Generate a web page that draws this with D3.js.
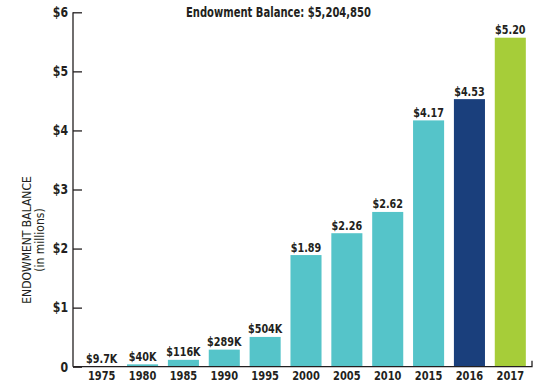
<!DOCTYPE html>
<html>
<head>
<meta charset="utf-8">
<script src="https://cdn.jsdelivr.net/npm/d3@7"></script>
<style>
  body { margin: 0; background: #fff; }
  svg text { font-family: "Liberation Sans Narrow", "DejaVu Sans", sans-serif; font-stretch: condensed; fill: #231f20; }
</style>
</head>
<body>
<svg id="chart" width="542" height="383"></svg>
<script>
// data
var years = ["1975", "1980", "1985", "1990", "1995", "2000", "2005", "2010", "2015", "2016", "2017"];
// bar heights in millions, as drawn
var balances = [0.0097, 0.04, 0.116, 0.289, 0.504, 1.89, 2.26, 2.62, 4.17, 4.53, 5.57];
var valueLabels = ["$9.7K", "$40K", "$116K", "$289K", "$504K", "$1.89", "$2.26", "$2.62", "$4.17", "$4.53", "$5.20"];
var barColors = ["#55c4c9", "#55c4c9", "#55c4c9", "#55c4c9", "#55c4c9", "#55c4c9", "#55c4c9", "#55c4c9", "#55c4c9", "#1a3f7c", "#a6cd39"];
var yTicks = [0, 1, 2, 3, 4, 5, 6];
var yTickLabels = ["0", "$1", "$2", "$3", "$4", "$5", "$6"];
var title = "Endowment Balance: $5,204,850";

(function() {
  var svg = d3.select("#chart");
  var left = 73, right = 532, plotTop = 12.3, bottom = 366.7;

  var x = d3.scaleBand().domain(years).range([78, 534]).paddingInner(0.24).paddingOuter(0.2);
  var y = d3.scaleLinear().domain([0, 6]).range([bottom, plotTop]);

  // narrow the glyphs a bit, the original face is a tall condensed gothic
  function squeeze(sel, fx, fy, sx) {
    return sel.attr("transform", function(d, i) {
      return "translate(" + fx(d, i) + "," + fy(d, i) + ") scale(" + sx + ",1)";
    });
  }

  // y axis: line with inward ticks
  var yAxis = d3.axisRight(y).tickValues(yTicks).tickSize(9).tickFormat("");
  var gy = svg.append("g").attr("transform", "translate(" + left + ",0)").call(yAxis);
  gy.select(".domain").remove();
  gy.selectAll("line").attr("stroke", "#231f20").attr("stroke-width", 1.3);
  svg.append("line").attr("x1", left).attr("x2", left).attr("y1", y(6)).attr("y2", y(0))
    .attr("stroke", "#231f20").attr("stroke-width", 1.3);

  squeeze(svg.selectAll("text.ytick").data(yTicks).enter().append("text")
    .attr("class", "ytick")
    .attr("text-anchor", "end").attr("font-size", 13.5).attr("font-weight", "bold")
    .text(function(d, i) { return yTickLabels[i]; }),
    function() { return 68; }, function(d) { return y(d) + 4.8; }, 0.9);

  // bars
  svg.selectAll("rect.bar").data(balances).enter().append("rect")
    .attr("class", "bar")
    .attr("x", function(d, i) { return x(years[i]); })
    .attr("width", x.bandwidth())
    .attr("y", function(d) { return y(d); })
    .attr("height", function(d) { return y(0) - y(d); })
    .attr("fill", function(d, i) { return barColors[i]; });

  // x axis line with end tick
  svg.append("path")
    .attr("d", "M" + left + "," + bottom + "H" + right + "V" + (bottom - 6))
    .attr("fill", "none").attr("stroke", "#231f20").attr("stroke-width", 1.3);

  squeeze(svg.selectAll("text.xlab").data(years).enter().append("text")
    .attr("class", "xlab")
    .attr("text-anchor", "middle").attr("font-size", 12.5).attr("font-weight", "bold")
    .text(function(d) { return d; }),
    function(d) { return x(d) + x.bandwidth() / 2; }, function() { return 380; }, 0.88);

  // value labels
  squeeze(svg.selectAll("text.val").data(balances).enter().append("text")
    .attr("class", "val")
    .attr("text-anchor", "middle").attr("font-size", 12.5).attr("font-weight", "bold")
    .text(function(d, i) { return valueLabels[i]; }),
    function(d, i) { return x(years[i]) + x.bandwidth() / 2; }, function(d) { return y(d) - 3.5; }, 0.86);

  // title
  svg.append("text").attr("x", 186).attr("y", 17)
    .attr("textLength", 185).attr("lengthAdjust", "spacingAndGlyphs")
    .attr("font-size", 14).attr("font-weight", "bold").text(title);

  // y axis title
  var yt = svg.append("g").attr("transform", "translate(0,240) rotate(-90)");
  yt.append("text").attr("x", 0).attr("y", 31).attr("text-anchor", "middle")
    .attr("font-size", 12).attr("font-weight", 500).text("ENDOWMENT BALANCE");
  yt.append("text").attr("x", 0).attr("y", 44).attr("text-anchor", "middle")
    .attr("font-size", 12).text("(in millions)");
})();
</script>
</body>
</html>
